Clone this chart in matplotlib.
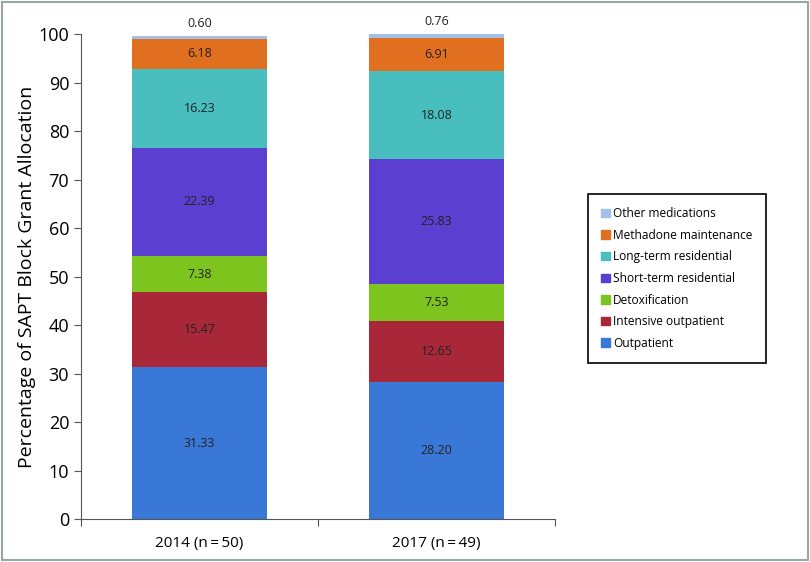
import numpy as np
import matplotlib.pyplot as plt
from matplotlib.patches import Rectangle

plt.rcParams['font.family'] = ['Open Sans', 'DejaVu Sans']

# Datos
grupos = ['2014 (n\u2009=\u200950)', '2017 (n\u2009=\u200949)']
categorias = ['Outpatient', 'Intensive outpatient', 'Detoxification',
              'Short-term residential', 'Long-term residential',
              'Methadone maintenance', 'Other medications']
valores_2014 = [31.33, 15.47, 7.38, 22.39, 16.23, 6.18, 0.60]
valores_2017 = [28.20, 12.65, 7.53, 25.83, 18.08, 6.91, 0.76]
colores = ['#3A78D8', '#A8283A', '#7DC41F', '#5B3FD0', '#48BEBE', '#E07020', '#A3C0EC']

datos = np.array([valores_2014, valores_2017])  # grupos x categorias
x = np.arange(len(grupos))

fig = plt.figure(figsize=(8.1, 5.62), dpi=100)
ax = fig.add_axes([0.1, 0.0765, 0.585, 0.863])

base = np.zeros(len(grupos))
for j, cat in enumerate(categorias):
    ax.bar(x, datos[:, j], 0.57, bottom=base, color=colores[j], label=cat, linewidth=0)
    for i in range(len(grupos)):
        v = datos[i, j]
        if j == len(categorias) - 1:
            ax.text(x[i], base[i] + v + 1.2, f'{v:.2f}', ha='center', va='bottom',
                    fontsize=9, color='#222222')
        else:
            ax.text(x[i], base[i] + v / 2, f'{v:.2f}', ha='center', va='center',
                    fontsize=9, color='#222222')
    base = base + datos[:, j]

ax.set_xlim(-0.5, 1.5)
ax.set_ylim(0, 100)
ax.set_yticks(np.arange(0, 101, 10))
ax.tick_params(axis='y', labelsize=13, direction='out', length=5, color='#555555')
ax.set_xticks([-0.5, 0.5, 1.5])
ax.set_xticklabels([])
ax.tick_params(axis='x', which='major', direction='out', length=5, color='#555555')
ax.set_xticks(x, minor=True)
ax.set_xticklabels(grupos, minor=True, fontsize=11)
ax.tick_params(axis='x', which='minor', length=0, pad=12)
ax.set_ylabel('Percentage of SAPT Block Grant Allocation', fontsize=14, labelpad=2)
for s in ['top', 'right']:
    ax.spines[s].set_visible(False)
for s in ['left', 'bottom']:
    ax.spines[s].set_color('#555555')

handles = [Rectangle((0, 0), 1, 1, color=c) for c in colores][::-1]
leg = fig.legend(handles, categorias[::-1], loc='upper left',
                 bbox_to_anchor=(588 / 810, 1 - 194 / 562), fontsize=8.6,
                 handlelength=0.7, handleheight=0.7, handletextpad=0.3,
                 labelspacing=0.72, borderpad=1.1, borderaxespad=0,
                 fancybox=False, edgecolor='black', framealpha=1)
leg.get_frame().set_linewidth(1.2)

# Marco gris de la figura
fig.patches.append(Rectangle((0.003, 0.004), 0.994, 0.992, transform=fig.transFigure,
                             fill=False, edgecolor='#9AA5A5', linewidth=1.5))

plt.savefig('out.png', dpi=100)
